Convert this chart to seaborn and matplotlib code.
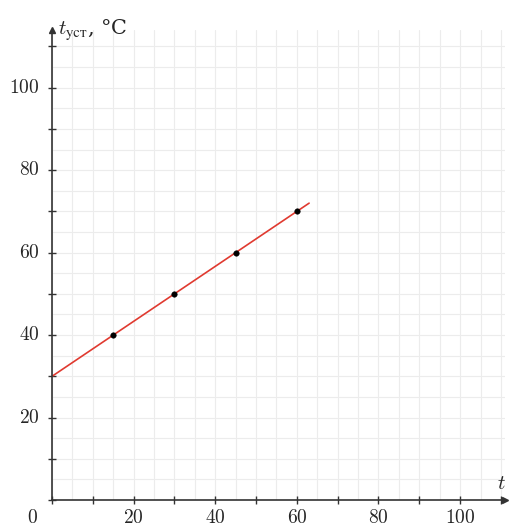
import numpy as np
import seaborn as sns
import matplotlib.pyplot as plt
from matplotlib.ticker import MultipleLocator

# measured points
t_vals = [15, 30, 45, 60]
t_yst = [40, 50, 60, 70]

# fitted line t_yst = 30 + 2/3 * t
line_t = [0, 63]
line_y = [30, 72]

x_ticks = [20, 40, 60, 80, 100]
y_ticks = [20, 40, 60, 80, 100]

sns.set_style("white")
plt.rcParams['mathtext.fontset'] = 'cm'
plt.rcParams['font.family'] = ['DejaVu Serif']

fig = plt.figure(figsize=(5.09, 5.29), dpi=100)
ax = fig.add_axes([52 / 509, 29 / 529, (505 - 52) / 509, (500 - 30) / 529])
ax.set_xlim(0, 111)
ax.set_ylim(0, 114)

# faint graph-paper grid
ax.xaxis.set_minor_locator(MultipleLocator(5))
ax.yaxis.set_minor_locator(MultipleLocator(5))
ax.xaxis.set_major_locator(MultipleLocator(10))
ax.yaxis.set_major_locator(MultipleLocator(10))
ax.grid(which='both', color='#ececec', linewidth=0.8)
ax.set_axisbelow(True)

sns.lineplot(x=line_t, y=line_y, ax=ax, color='#e03a30', linewidth=1.2)
sns.scatterplot(x=t_vals, y=t_yst, ax=ax, color='black', s=16, edgecolor='black', zorder=3)

for s in ['top', 'right']:
    ax.spines[s].set_visible(False)
for s in ['left', 'bottom']:
    ax.spines[s].set_color('#333333')
    ax.spines[s].set_linewidth(1.2)

ax.tick_params(which='major', bottom=True, left=True, direction='inout', length=6,
               width=1, color='#333333')
ax.tick_params(which='minor', length=0)
ax.set_xticklabels([])
ax.set_yticklabels([])
for v in x_ticks:
    ax.text(v, -2.3, f'${v}$', ha='center', va='top', fontsize=14, clip_on=False)
for v in y_ticks:
    ax.text(-3, v, f'${v}$', ha='right', va='center', fontsize=14, clip_on=False)
ax.text(-3.5, -2.3, '$0$', ha='right', va='top', fontsize=14, clip_on=False)

# arrow tips
ax.plot(0, 1, marker='^', color='#333333', markersize=4, transform=ax.transAxes, clip_on=False)
ax.plot(1, 0, marker='>', color='#333333', markersize=4, transform=ax.transAxes, clip_on=False)

ax.text(1.5, 114, r'$t_{\mathrm{уст}}$, °C', ha='left', va='center', fontsize=15,
        family=['DejaVu Serif'], clip_on=False)
ax.text(109, 4, r'$t$', ha='left', va='center', fontsize=15, clip_on=False)

fig.savefig('out.png', dpi=100)
